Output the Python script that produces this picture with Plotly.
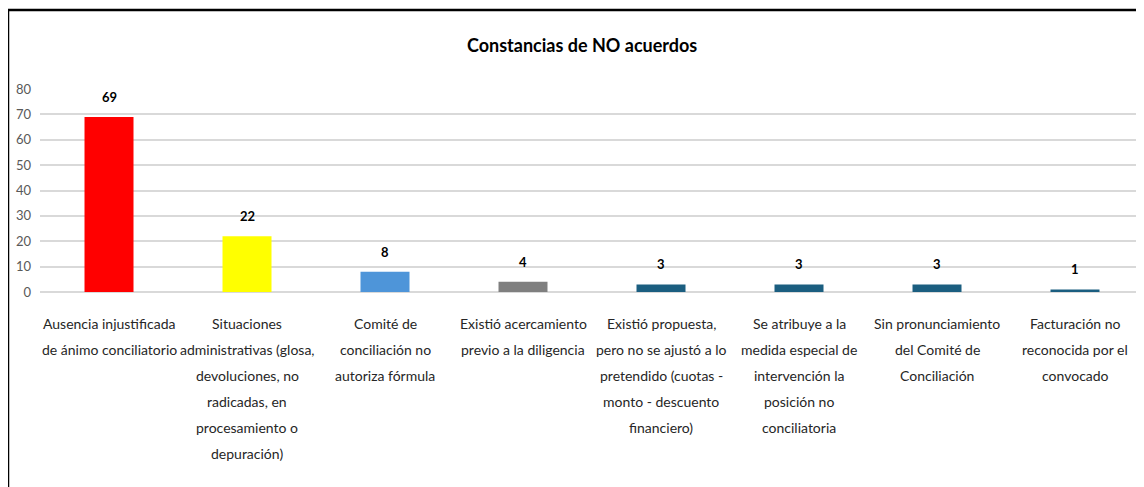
import plotly.graph_objects as go

# data
categories = [
    "Ausencia injustificada<br>de ánimo conciliatorio",
    "Situaciones<br>administrativas (glosa,<br>devoluciones, no<br>radicadas, en<br>procesamiento o<br>depuración)",
    "Comité de<br>conciliación no<br>autoriza fórmula",
    "Existió acercamiento<br>previo a la diligencia",
    "Existió propuesta,<br>pero no se ajustó a lo<br>pretendido (cuotas -<br>monto - descuento<br>financiero)",
    "Se atribuye a la<br>medida especial de<br>intervención la<br>posición no<br>conciliatoria",
    "Sin pronunciamiento<br>del Comité de<br>Conciliación",
    "Facturación no<br>reconocida por el<br>convocado",
]
values = [69, 22, 8, 4, 3, 3, 3, 1]
bar_colors = ["#FF0000", "#FFFF00", "#4E95D9", "#7F7F7F",
              "#1B5E80", "#1B5E80", "#1B5E80", "#1B5E80"]
y_ticks = [0, 10, 20, 30, 40, 50, 60, 70, 80]

FONT = "Lato, Roboto, Liberation Sans, sans-serif"
W, H = 1136, 479          # page adds an 8px body margin
L, T, B = 32, 81, 195
PW, PH = W - L, H - T - B


def px_x(x):
    return (x - L) / PW


def px_y(y):
    return (H - B - y) / PH


idx = list(range(len(categories)))

fig = go.Figure()
fig.add_trace(
    go.Bar(
        x=idx,
        y=values,
        width=0.355,
        marker=dict(color=bar_colors, line=dict(width=0)),
        hoverinfo="skip",
        showlegend=False,
    )
)

annotations = []
# value labels above bars
for i, v in zip(idx, values):
    annotations.append(dict(
        x=i, y=v, xref="x", yref="y", text=f"<b>{v}</b>", showarrow=False,
        yshift=20, font=dict(family=FONT, size=13, color="#000000"),
    ))
# category labels, one annotation per line for the wider line spacing
for i, cat in zip(idx, categories):
    for j, line in enumerate(cat.split("<br>")):
        annotations.append(dict(
            x=i, y=0, xref="x", yref="y", text=line, showarrow=False,
            yshift=-(31 + 26 * j), yanchor="middle",
            font=dict(family=FONT, size=14, color="#262626"),
        ))
annotations.append(dict(
    x=px_x(574), y=px_y(37), xref="paper", yref="paper",
    text="<b>Constancias de NO acuerdos</b>", showarrow=False,
    yanchor="middle", font=dict(family=FONT, size=18, color="#000000"),
))

fig.update_layout(
    width=W,
    height=H,
    margin=dict(l=L, r=0, t=T, b=B),
    plot_bgcolor="#FFFFFF",
    paper_bgcolor="#FFFFFF",
    xaxis=dict(range=[-0.5, len(categories) - 0.5], showticklabels=False,
               showgrid=False, zeroline=False, showline=False, ticks=""),
    yaxis=dict(range=[0, 80], tickvals=y_ticks, showgrid=True,
               gridcolor="#D9D9D9", gridwidth=1.5, zeroline=True,
               zerolinecolor="#D9D9D9", zerolinewidth=1.5,
               tickfont=dict(family=FONT, size=13, color="#595959"),
               ticklabelstandoff=8),
    annotations=annotations,
    shapes=[
        dict(type="line", xref="paper", yref="paper",
             x0=px_x(0), x1=1.05, y0=px_y(2), y1=px_y(2),
             line=dict(color="#000000", width=2.5)),
        dict(type="line", xref="paper", yref="paper",
             x0=px_x(0), x1=px_x(0), y0=px_y(2), y1=px_y(H + 20),
             line=dict(color="#000000", width=2.5)),
    ],
)

fig.write_html("out.html")
